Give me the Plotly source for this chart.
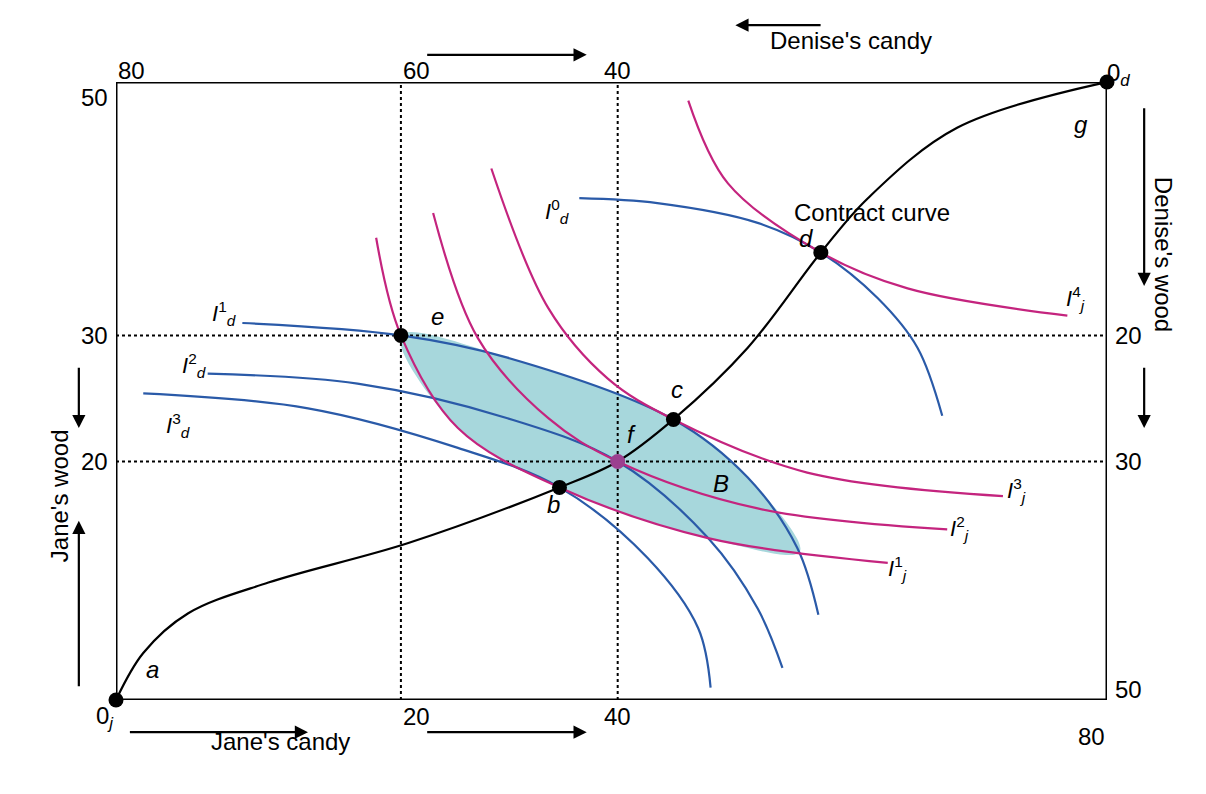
import plotly.graph_objects as go

# chart units: Jane's candy 0..80 (x), Jane's wood 0..50 (y), schematic as in the figure
contract_x = [0, 2.2, 5.8, 12.3, 23.6, 35.8, 40.5, 45.0, 51.0, 56.9, 60.7, 67.9, 80]
contract_y = [0, 3.8, 7.0, 9.5, 12.7, 17.2, 19.3, 22.7, 28.5, 36.2, 40.6, 46.3, 50]

id0_x = [37.4, 43.7, 51.8, 56.9, 61.5, 64.7, 66.7]
id0_y = [40.6, 40.2, 38.6, 36.2, 32.5, 28.5, 23.0]
id1_x = [10.2, 23.0, 31.6, 45.0, 51.0, 55.0, 56.7]
id1_y = [30.5, 29.5, 27.7, 22.7, 18.0, 12.3, 6.9]
id2_x = [7.4, 19.5, 31.6, 40.5, 47.8, 51.8, 53.8]
id2_y = [26.4, 25.6, 22.8, 19.3, 13.1, 7.4, 2.6]
id3_x = [2.2, 15.5, 27.6, 35.8, 42.9, 47.0, 48.0]
id3_y = [24.8, 23.6, 20.4, 17.2, 11.5, 5.8, 1.0]

ij1_x = [21.0, 23.0, 27.6, 35.8, 47.8, 62.3]
ij1_y = [37.4, 29.5, 22.0, 17.2, 13.1, 11.1]
ij2_x = [25.6, 29.2, 34.9, 40.5, 51.8, 67.1]
ij2_y = [39.4, 29.3, 22.8, 19.3, 15.5, 13.8]
ij3_x = [30.3, 34.9, 39.7, 45.0, 55.8, 71.6]
ij3_y = [43.0, 31.7, 26.0, 22.7, 18.4, 16.5]
ij4_x = [46.2, 49.4, 56.9, 63.9, 76.8]
ij4_y = [48.5, 41.8, 36.2, 33.3, 31.1]

lens_x = [23.0, 31.6, 45.0, 51.0, 55.2, 47.8, 35.8, 27.6, 23.0]
lens_y = [29.5, 27.7, 22.7, 18.0, 12.0, 13.1, 17.2, 22.0, 29.5]

pt_x = [0, 35.8, 45.0, 56.9, 23.0, 80]
pt_y = [0, 17.2, 22.7, 36.2, 29.5, 50]
f_x, f_y = 40.5, 19.3

grid_x = [23.0, 40.5]
grid_y = [29.5, 19.3]

BLUE = "#2a5aa8"
MAG = "#c4247e"
FONT = "Liberation Sans"
XMAX, YMAX = 80, 50
PXW, PXH = 991, 618

fig = go.Figure()
fig.add_trace(go.Scatter(x=lens_x, y=lens_y, fill="toself", fillcolor="#a7d7dc",
                         line=dict(width=0, shape="spline"), mode="lines"))
for gx in grid_x:
    fig.add_trace(go.Scatter(x=[gx, gx], y=[0, 50], mode="lines",
                             line=dict(color="black", width=2, dash="dot")))
for gy in grid_y:
    fig.add_trace(go.Scatter(x=[0, 80], y=[gy, gy], mode="lines",
                             line=dict(color="black", width=2, dash="dot")))
for xs, ys in [(id0_x, id0_y), (id1_x, id1_y), (id2_x, id2_y), (id3_x, id3_y)]:
    fig.add_trace(go.Scatter(x=xs, y=ys, mode="lines",
                             line=dict(color=BLUE, width=2.2, shape="spline")))
for xs, ys in [(ij1_x, ij1_y), (ij2_x, ij2_y), (ij3_x, ij3_y), (ij4_x, ij4_y)]:
    fig.add_trace(go.Scatter(x=xs, y=ys, mode="lines",
                             line=dict(color=MAG, width=2.2, shape="spline")))
fig.add_trace(go.Scatter(x=contract_x, y=contract_y, mode="lines",
                         line=dict(color="black", width=2.2, shape="spline")))
fig.add_trace(go.Scatter(x=pt_x, y=pt_y, mode="markers", cliponaxis=False,
                         marker=dict(color="black", size=15)))
fig.add_trace(go.Scatter(x=[f_x], y=[f_y], mode="markers",
                         marker=dict(color="#9b3f8f", size=15)))

fig.add_shape(type="rect", x0=0, y0=0, x1=80, y1=50, line=dict(color="black", width=3))

ann = []
def txt(x, y, t, size=24, italic=False, **kw):
    if italic:
        t = "<i>" + t + "</i>"
    ann.append(dict(x=x / XMAX, y=y / YMAX, xref="paper", yref="paper", text=t, showarrow=False,
                    font=dict(size=size, family=FONT, color="black"), **kw))

# point labels
txt(2.3, 1.2, "a", italic=True)
txt(35.3, 14.6, "b", italic=True)
txt(45.3, 25.1, "c", italic=True)
txt(56.4, 38.6, "d", italic=True)
txt(25.3, 31.0, "e", italic=True)
txt(41.6, 21.5, "f", italic=True)
txt(78.6, 47.8, "g", italic=True)
txt(48.8, 17.5, "B", italic=True)
txt(67.5, 40.7, "Contract curve")

def ilab(x, y, sup, sub):
    txt(x, y, "<i>I</i><sup>%s</sup><sub><i>%s</i></sub>" % (sup, sub), size=22)
ilab(35.6, 40.9, "0", "d")
ilab(7.6, 31.3, "1", "d")
ilab(5.2, 27.1, "2", "d")
ilab(3.9, 22.2, "3", "d")
ilab(64.0, 9.2, "1", "j")
ilab(69.0, 12.5, "2", "j")
ilab(73.6, 15.5, "3", "j")
ilab(78.4, 32.5, "4", "j")

# tick labels
txt(0, 52.2, "80")
txt(23.0, 52.2, "60")
txt(40.5, 52.2, "40")
txt(-3.0, 50, "50")
txt(-3.0, 29.5, "30")
txt(-3.0, 19.3, "20")
txt(23.0, -2.6, "20")
txt(40.5, -2.6, "40")
txt(80, -4.2, "80")
txt(83.0, 29.5, "20")
txt(83.0, 19.3, "30")
txt(83.0, -0.4, "50")
txt(-1.8, -2.8, "0<sub><i>j</i></sub>")
txt(82.0, 52.0, "0<sub><i>d</i></sub>")
txt(7.5, -4.6, "Jane's candy")
txt(66.0, 54.6, "Denise's candy")
txt(-5.8, 11.0, "Jane's wood", textangle=-90)
txt(85.8, 42.5, "Denise's wood", textangle=90)

def arrow(x0, y0, x1, y1):
    ann.append(dict(x=x1 / XMAX, y=y1 / YMAX, xref="paper", yref="paper",
                    ax=(x0 - x1) * PXW / XMAX, ay=-(y0 - y1) * PXH / YMAX,
                    text="", showarrow=True, arrowhead=2, arrowsize=1.2, arrowwidth=2.2,
                    arrowcolor="black"))
arrow(25.0, 52.2, 38.0, 52.2)
arrow(25.0, -2.6, 38.0, -2.6)
arrow(1.0, -2.6, 15.5, -2.6)
arrow(57.0, 54.6, 50.0, 54.6)
arrow(-3.0, 1.0, -3.0, 14.5)
arrow(-3.0, 27.0, -3.0, 22.0)
arrow(83.0, 27.0, 83.0, 22.0)
arrow(83.0, 48.0, 83.0, 33.5)

fig.update_layout(
    width=1206, height=794, showlegend=False, plot_bgcolor="white", paper_bgcolor="white",
    margin=dict(l=108, r=107, t=74, b=102),
    xaxis=dict(range=[0, 80], visible=False),
    yaxis=dict(range=[0, 50], visible=False),
    annotations=ann, font=dict(family=FONT),
)
fig.write_html("out.html")
